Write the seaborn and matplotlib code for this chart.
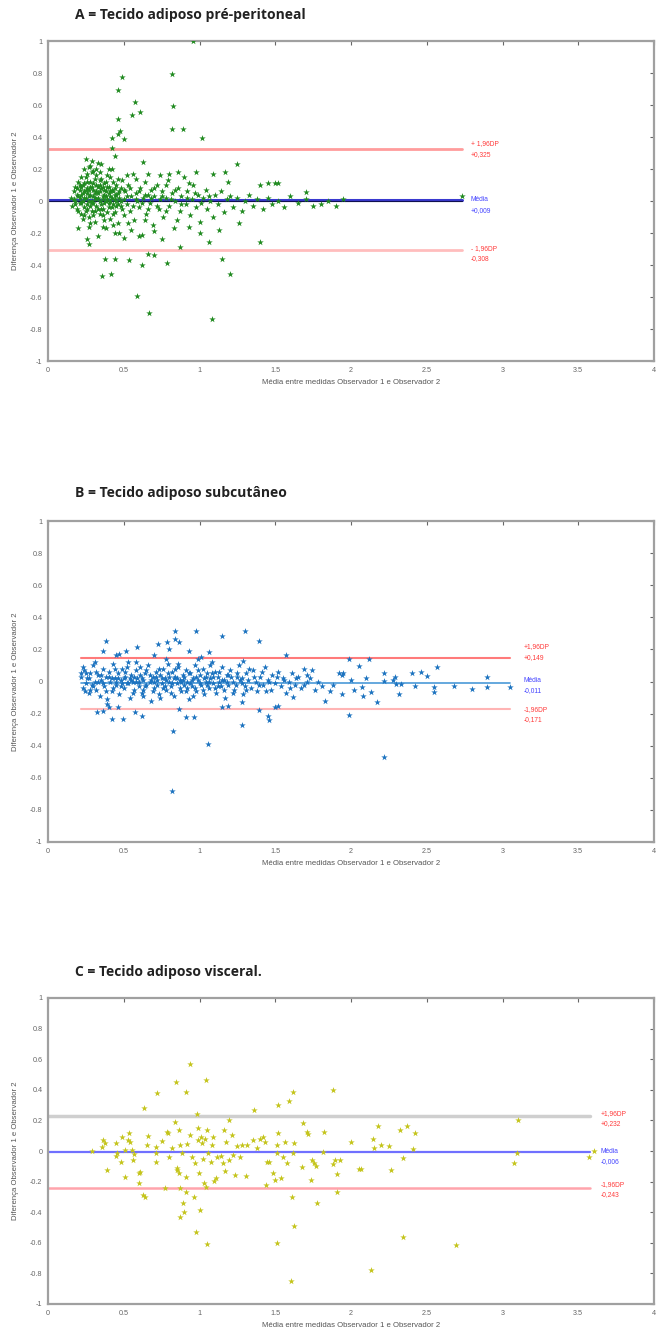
"""Bland-Altman plots: inter-observer agreement for three adipose tissue measures."""
import numpy as np
import matplotlib
matplotlib.use('Agg')
import matplotlib.pyplot as plt
from matplotlib.ticker import FormatStrFormatter
import pandas as pd
import seaborn as sns

# ---- data ----------------------------------------------------------------
titles = ['A = Tecido adiposo pré-peritoneal',
          'B = Tecido adiposo subcutâneo',
          'C = Tecido adiposo visceral.']

# limits of agreement: (upper, mean, lower) and the texts printed next to them
limits_a = [0.325, 0.009, -0.308]
limits_b = [0.149, -0.011, -0.171]
limits_c = [0.232, -0.006, -0.243]
labels_a = ['+ 1,96DP\n+0,325', 'Média\n+0,009', '- 1,96DP\n-0,308']
labels_b = ['+1,96DP\n+0,149', 'Média\n-0,011', '-1,96DP\n-0,171']
labels_c = ['+1,96DP\n+0,232', 'Média\n-0,006', '-1,96DP\n-0,243']
line_span_a = [0.0, 2.73]
line_span_b = [0.22, 3.05]
line_span_c = [0.0, 3.58]

# panel A (mean, difference)
pts_a_core = [
    (0.15, 0.02), (0.16, -0.03), (0.17, 0.06), (0.18, 0.00), (0.18, 0.09), (0.19, -0.05),
    (0.20, 0.03), (0.20, 0.12), (0.21, -0.01), (0.21, 0.07), (0.22, -0.08), (0.22, 0.04),
    (0.23, 0.10), (0.23, 0.00), (0.24, -0.04), (0.24, 0.06), (0.25, 0.15), (0.25, 0.02),
    (0.26, -0.02), (0.26, 0.08), (0.27, 0.21), (0.27, -0.10), (0.28, 0.04), (0.28, 0.12),
    (0.29, 0.00), (0.29, -0.06), (0.30, 0.07), (0.30, 0.19), (0.31, 0.02), (0.31, -0.13),
    (0.32, 0.10), (0.32, -0.03), (0.33, 0.05), (0.33, 0.24), (0.34, 0.00), (0.34, -0.08),
    (0.35, 0.08), (0.35, 0.14), (0.36, 0.03), (0.36, -0.05), (0.37, 0.11), (0.37, -0.01),
    (0.38, 0.06), (0.38, -0.17), (0.39, 0.01), (0.39, 0.16), (0.40, -0.04), (0.40, 0.09),
    (0.41, 0.03), (0.41, -0.11), (0.42, 0.07), (0.42, 0.20), (0.43, -0.02), (0.43, 0.12),
    (0.44, 0.04), (0.44, -0.07), (0.45, 0.00), (0.45, 0.10), (0.46, -0.14), (0.46, 0.05),
    (0.47, 0.02), (0.47, -0.20), (0.48, 0.08), (0.48, -0.03), (0.49, 0.13), (0.50, 0.01),
    (0.50, -0.09), (0.51, 0.06), (0.52, -0.02), (0.53, 0.10), (0.54, -0.06), (0.55, 0.03),
    (0.56, 0.17), (0.57, -0.12), (0.58, 0.05), (0.59, 0.00), (0.60, -0.04), (0.61, 0.08),
    (0.62, -0.21), (0.63, 0.02), (0.64, 0.12), (0.65, -0.08), (0.66, 0.04), (0.67, -0.01),
    (0.68, 0.07), (0.69, -0.15), (0.70, 0.03), (0.72, 0.10), (0.73, -0.05), (0.74, 0.01),
    (0.75, 0.06), (0.76, -0.10), (0.78, 0.02), (0.79, 0.13), (0.80, -0.03), (0.82, 0.05),
    (0.83, -0.17), (0.84, 0.00), (0.86, 0.08), (0.87, -0.06), (0.88, 0.03), (0.90, 0.15),
    (0.91, -0.02), (0.92, 0.06), (0.94, -0.09), (0.95, 0.01), (0.96, 0.10), (0.98, -0.04),
    (0.99, 0.04), (1.00, -0.13), (1.02, 0.02), (1.04, 0.07), (1.05, -0.05), (1.07, 0.00),
    (1.09, -0.10), (1.10, 0.04), (1.12, -0.02), (1.14, 0.06), (1.16, -0.07), (1.18, 0.01),
    (1.20, 0.03), (1.22, -0.04), (1.25, 0.02), (1.28, -0.06), (1.30, 0.00), (1.33, 0.04),
    (1.35, -0.03), (1.38, 0.01), (1.42, -0.05), (1.45, 0.02), (1.48, -0.02), (1.52, 0.00),
    (1.56, -0.04), (1.60, 0.03), (1.65, -0.01), (1.70, 0.01), (1.75, -0.03), (1.80, -0.02),
    (1.85, 0.00), (1.90, -0.03), (1.95, 0.01),
    (0.19, 0.04), (0.21, 0.10), (0.22, -0.01), (0.24, 0.02), (0.25, -0.06), (0.26, 0.05),
    (0.27, 0.00), (0.28, -0.03), (0.29, 0.09), (0.30, -0.01), (0.31, 0.05), (0.32, 0.01),
    (0.33, -0.05), (0.34, 0.06), (0.35, -0.02), (0.36, 0.09), (0.37, 0.04), (0.38, 0.00),
    (0.39, -0.07), (0.40, 0.05), (0.41, 0.00), (0.42, -0.04), (0.43, 0.06), (0.44, 0.01),
    (0.45, -0.03), (0.30, 0.03), (0.27, 0.07), (0.33, 0.09), (0.36, -0.09), (0.24, 0.11),
    (0.23, -0.11), (0.26, 0.17), (0.31, 0.14), (0.34, 0.18), (0.29, 0.25), (0.25, 0.26),
    (0.28, 0.22), (0.32, 0.16), (0.38, 0.12), (0.40, 0.20), (0.46, 0.14), (0.52, 0.16),
    (0.58, 0.14), (0.66, 0.17), (0.74, 0.16), (0.80, 0.17), (0.86, 0.18), (0.98, 0.18),
    (1.09, 0.17), (1.17, 0.18), (1.19, 0.12), (1.40, 0.10), (1.45, 0.115), (1.50, 0.11),
    (1.52, 0.115), (1.245, 0.231), (1.70, 0.054),
    (0.20, -0.17), (0.28, -0.14), (0.33, -0.22), (0.36, -0.16), (0.44, -0.20), (0.50, -0.23),
    (0.55, -0.18), (0.60, -0.22), (0.70, -0.19), (0.75, -0.24), (0.85, -0.12), (0.93, -0.16),
    (1.00, -0.20), (1.13, -0.18), (1.26, -0.14),
    (0.17, 0.01), (0.18, -0.02), (0.19, 0.08), (0.20, -0.06), (0.21, 0.02), (0.22, 0.09),
    (0.23, 0.05), (0.24, -0.09), (0.25, 0.07), (0.26, -0.05), (0.27, 0.03), (0.28, 0.09),
    (0.29, -0.01), (0.30, 0.11), (0.31, -0.06), (0.32, 0.06), (0.33, 0.02), (0.34, 0.10),
    (0.35, -0.05), (0.36, 0.01), (0.37, 0.07), (0.38, 0.03), (0.39, 0.09), (0.40, -0.01),
    (0.41, 0.06), (0.42, 0.02), (0.43, -0.08), (0.44, 0.08), (0.45, 0.04), (0.46, -0.02),
    (0.47, 0.06), (0.48, 0.00), (0.49, -0.05), (0.50, 0.07), (0.52, 0.03), (0.54, 0.08),
    (0.56, -0.03), (0.58, 0.01), (0.60, 0.06), (0.62, -0.01), (0.64, 0.04), (0.66, -0.05),
    (0.68, 0.02), (0.70, 0.08), (0.72, -0.03), (0.75, 0.03), (0.78, -0.06), (0.81, 0.01),
    (0.84, 0.07), (0.88, -0.02), (0.92, 0.02), (0.97, 0.05), (1.01, -0.01), (1.06, 0.03),
    (0.22, 0.15), (0.26, 0.12), (0.30, -0.09), (0.34, 0.13), (0.37, -0.12), (0.41, 0.15),
    (0.29, 0.18), (0.24, 0.20), (0.32, 0.20), (0.35, 0.23), (0.43, -0.15), (0.27, -0.16),
    (0.53, -0.14), (0.64, -0.12), (0.78, 0.10), (0.93, 0.11),
]
pts_a_out = [
    (0.955, 1.0), (0.486, 0.775), (0.459, 0.694), (0.574, 0.617), (0.605, 0.556),
    (0.552, 0.535), (0.459, 0.515), (0.816, 0.794), (0.827, 0.596), (0.816, 0.45),
    (0.889, 0.45), (1.014, 0.392), (0.475, 0.435), (0.46, 0.419), (0.425, 0.392),
    (0.504, 0.39), (0.423, 0.329), (0.44, 0.281), (0.629, 0.242), (2.73, 0.03),
    (0.59, -0.592), (0.669, -0.702), (1.083, -0.74), (0.354, -0.469), (0.416, -0.458),
    (0.379, -0.36), (0.443, -0.36), (0.533, -0.369), (0.621, -0.398), (0.658, -0.329),
    (0.70, -0.34), (0.788, -0.39), (1.151, -0.36), (1.202, -0.458), (0.871, -0.29),
    (1.06, -0.258), (0.273, -0.269), (0.26, -0.24), (1.397, -0.258),
]

# panel B
pts_b_core = [
    (0.22, 0.03), (0.23, -0.04), (0.24, 0.07), (0.25, -0.01), (0.26, 0.02), (0.27, -0.07),
    (0.28, 0.05), (0.29, -0.02), (0.30, 0.10), (0.31, 0.00), (0.32, -0.05), (0.33, 0.04),
    (0.34, -0.09), (0.35, 0.01), (0.36, 0.08), (0.37, -0.03), (0.38, 0.03), (0.39, -0.11),
    (0.40, 0.06), (0.41, 0.00), (0.42, -0.06), (0.43, 0.11), (0.44, 0.02), (0.45, -0.02),
    (0.46, 0.05), (0.47, -0.08), (0.48, 0.01), (0.49, 0.08), (0.50, -0.04), (0.51, 0.03),
    (0.52, -0.01), (0.53, 0.12), (0.54, -0.10), (0.55, 0.04), (0.56, 0.00), (0.57, -0.05),
    (0.58, 0.07), (0.59, 0.02), (0.60, -0.03), (0.61, 0.09), (0.62, -0.07), (0.63, 0.01),
    (0.64, 0.05), (0.65, -0.02), (0.66, 0.10), (0.67, 0.00), (0.68, -0.12), (0.69, 0.03),
    (0.70, -0.04), (0.71, 0.06), (0.72, 0.01), (0.73, -0.08), (0.74, 0.04), (0.75, -0.01),
    (0.76, 0.08), (0.77, 0.02), (0.78, -0.05), (0.79, 0.11), (0.80, 0.00), (0.81, -0.03),
    (0.82, 0.06), (0.83, -0.09), (0.84, 0.03), (0.85, -0.01), (0.86, 0.09), (0.87, 0.01),
    (0.88, -0.06), (0.89, 0.04), (0.90, -0.02), (0.91, 0.07), (0.92, 0.00), (0.93, -0.11),
    (0.94, 0.05), (0.95, -0.03), (0.96, 0.02), (0.97, 0.10), (0.98, -0.06), (0.99, 0.01),
    (1.00, 0.04), (1.01, -0.02), (1.02, 0.08), (1.03, -0.08), (1.04, 0.00), (1.05, 0.05),
    (1.06, -0.04), (1.07, 0.02), (1.08, 0.12), (1.09, -0.01), (1.10, 0.06), (1.11, -0.07),
    (1.12, 0.03), (1.13, 0.00), (1.14, -0.03), (1.15, 0.09), (1.16, 0.01), (1.17, -0.10),
    (1.18, 0.04), (1.19, -0.02), (1.20, 0.07), (1.22, 0.00), (1.23, -0.05), (1.25, 0.03),
    (1.26, 0.10), (1.28, -0.01), (1.29, -0.08), (1.31, 0.05), (1.32, 0.01), (1.34, -0.04),
    (1.35, 0.07), (1.37, 0.00), (1.38, -0.06), (1.40, 0.03), (1.42, -0.02), (1.43, 0.09),
    (1.45, 0.01), (1.47, -0.05), (1.48, 0.04), (1.50, -0.01), (1.52, 0.06), (1.54, -0.03),
    (1.55, 0.02), (1.57, -0.07), (1.59, 0.00), (1.61, 0.05), (1.63, -0.02), (1.65, 0.03),
    (1.67, -0.04), (1.69, 0.08), (1.71, 0.00),
    (0.42, 0.02), (0.45, 0.00), (0.48, -0.03), (0.50, 0.02), (0.53, -0.01), (0.55, 0.01),
    (0.57, 0.03), (0.60, 0.00), (0.62, 0.02), (0.64, -0.03), (0.67, 0.04), (0.70, 0.00),
    (0.72, -0.02), (0.75, 0.02), (0.77, -0.03), (0.80, 0.03), (0.82, -0.01), (0.85, 0.02),
    (0.88, 0.00), (0.90, 0.03), (0.92, -0.04), (0.95, 0.01), (0.98, 0.03), (1.00, -0.01),
    (1.03, 0.02), (1.06, 0.00), (1.09, 0.03), (1.12, -0.03), (1.15, 0.01), (1.18, 0.00),
    (1.21, 0.03), (1.24, -0.02), (1.27, 0.01), (1.30, -0.03), (0.35, 0.04), (0.38, -0.06),
    (0.30, -0.03), (0.27, 0.02), (0.33, 0.00), (0.44, 0.08), (0.52, 0.09), (0.63, -0.09),
    (0.74, -0.10), (0.86, 0.11), (0.96, -0.09), (1.07, 0.10), (1.33, 0.08), (1.44, -0.06),
    (0.25, 0.05), (0.28, -0.05), (0.32, 0.06), (0.36, -0.01), (0.40, 0.03), (0.43, -0.04),
    (0.46, 0.02), (0.49, -0.01), (0.51, 0.06), (0.54, 0.02), (0.56, -0.07), (0.58, 0.00),
    (0.61, 0.04), (0.63, -0.05), (0.65, 0.07), (0.68, 0.01), (0.69, -0.06), (0.71, 0.03),
    (0.73, 0.08), (0.76, -0.04), (0.78, 0.01), (0.79, 0.05), (0.81, -0.07), (0.83, 0.02),
    (0.84, 0.08), (0.87, -0.04), (0.89, 0.01), (0.91, -0.06), (0.93, 0.05), (0.94, -0.01),
    (0.97, -0.04), (0.99, 0.07), (1.02, -0.05), (1.04, 0.03), (1.05, -0.02), (1.08, 0.05),
    (1.10, -0.04), (1.13, 0.06), (1.16, -0.05), (1.19, 0.04), (1.22, -0.07), (1.25, 0.05),
    (1.28, 0.02), (1.31, -0.05), (1.36, 0.03), (1.39, -0.02), (1.41, 0.06), (1.46, 0.00),
    (1.51, 0.03), (1.56, 0.01), (1.60, -0.04), (1.64, 0.02),
]
pts_b_out = [
    (0.838, 0.315), (0.975, 0.315), (1.30, 0.315), (1.149, 0.284), (1.39, 0.255),
    (0.383, 0.255), (0.725, 0.234), (0.784, 0.248), (0.838, 0.265), (0.797, 0.20),
    (0.865, 0.248), (0.585, 0.213), (0.363, 0.193), (0.933, 0.193), (1.06, 0.184),
    (0.515, 0.193), (0.447, 0.166), (0.467, 0.172), (1.57, 0.166), (1.01, 0.151),
    (0.70, 0.164), (0.78, 0.14), (0.99, 0.14), (1.29, 0.128), (0.31, 0.124),
    (0.233, 0.089), (0.218, 0.052), (0.58, 0.12),
    (1.056, -0.387), (0.827, -0.311), (1.283, -0.271), (1.39, -0.18), (1.45, -0.217),
    (1.46, -0.238), (1.50, -0.16), (1.52, -0.155), (0.91, -0.219), (0.964, -0.219),
    (0.618, -0.217), (0.497, -0.234), (0.425, -0.234), (0.46, -0.16), (0.323, -0.193),
    (0.36, -0.186), (0.572, -0.19), (0.864, -0.17), (1.146, -0.161), (1.19, -0.155),
    (1.28, -0.13), (1.83, -0.124), (0.387, -0.139), (0.40, -0.157), (0.246, -0.062),
    (1.62, -0.097), (0.82, -0.68),
    (1.99, 0.141), (2.12, 0.141), (2.05, 0.097), (2.22, 0.052), (2.40, 0.052),
    (2.46, 0.062), (2.50, 0.037), (2.57, 0.089), (2.90, 0.031), (2.90, -0.037),
    (3.05, -0.037), (2.80, -0.048), (2.68, -0.031), (2.55, -0.037), (2.55, -0.068),
    (2.42, -0.031), (2.32, -0.079), (2.17, -0.13), (1.99, -0.211), (2.22, -0.472),
    (2.28, 0.01), (2.30, -0.015), (2.33, -0.015), (2.29, 0.027), (2.22, 0.006),
    (2.13, -0.066), (2.07, -0.035), (2.08, -0.093), (2.02, -0.05), (2.00, 0.01),
    (2.10, 0.02), (1.94, 0.04), (1.94, -0.08), (1.92, 0.05), (1.95, 0.056),
    (1.88, -0.02), (1.86, -0.06), (1.74, 0.072), (1.73, 0.02), (1.78, 0.0),
    (1.81, -0.03), (1.76, -0.05), (1.69, -0.02), (1.71, 0.04),
]

# panel C
pts_c = [
    (0.293, 0.0), (0.387, -0.124), (0.365, 0.072), (0.376, 0.054), (0.359, 0.024),
    (0.447, 0.05), (0.453, -0.015), (0.449, -0.03), (0.48, -0.07), (0.49, 0.089),
    (0.51, 0.007), (0.51, -0.172), (0.537, 0.115), (0.53, 0.072), (0.541, 0.059),
    (0.552, 0.007), (0.563, -0.059), (0.57, -0.02), (0.598, -0.146), (0.603, -0.211),
    (0.61, -0.135), (0.625, -0.29), (0.643, -0.298), (0.634, 0.279), (0.651, 0.039),
    (0.662, 0.098), (0.713, 0.028), (0.713, -0.072), (0.71, -0.015), (0.721, 0.377),
    (0.75, 0.065), (0.772, -0.24), (0.783, 0.126), (0.79, 0.12), (0.80, -0.037),
    (0.816, 0.022), (0.84, 0.192), (0.847, 0.449), (0.849, -0.124), (0.853, -0.113),
    (0.864, 0.137), (0.867, -0.146), (0.87, 0.039), (0.873, -0.244), (0.869, -0.434),
    (0.887, -0.015), (0.90, -0.397), (0.893, -0.338), (0.91, -0.172), (0.909, 0.386),
    (0.915, 0.046), (0.91, -0.27), (0.937, 0.569), (0.937, 0.102), (0.948, -0.037),
    (0.963, -0.298), (0.97, -0.076), (0.977, -0.527), (0.986, 0.24), (0.988, 0.148),
    (0.992, 0.072), (0.999, -0.146), (1.003, -0.386), (1.012, 0.094), (1.019, 0.054),
    (1.025, -0.05), (1.032, -0.211), (1.04, -0.233), (1.036, 0.076), (1.043, 0.464),
    (1.047, 0.137), (1.052, -0.606), (1.058, -0.011), (1.073, -0.07), (1.08, 0.037),
    (1.091, 0.089), (1.096, -0.194), (1.106, -0.179), (1.113, -0.037), (1.142, -0.03),
    (1.153, -0.081), (1.162, 0.137), (1.168, -0.129), (1.175, 0.061), (1.192, 0.203),
    (1.195, -0.059), (1.212, 0.107), (1.218, -0.026), (1.234, -0.157), (1.245, 0.035),
    (1.267, -0.037), (1.278, 0.039), (1.307, -0.163), (1.315, 0.039), (1.362, 0.27),
    (1.355, 0.072), (1.377, 0.017), (1.398, 0.076), (1.416, 0.089), (1.435, 0.061),
    (1.447, -0.07), (1.439, -0.222), (1.456, -0.07), (1.487, -0.146), (1.498, -0.19),
    (1.509, -0.604), (1.516, 0.298), (1.516, 0.12), (1.514, 0.039), (1.509, -0.011),
    (1.537, -0.179), (1.548, -0.037), (1.566, 0.061), (1.579, -0.076), (1.588, 0.329),
    (1.608, -0.298), (1.619, 0.388), (1.623, 0.05), (1.623, -0.488), (1.619, -0.011),
    (1.604, -0.847), (1.679, -0.107), (1.685, 0.181), (1.707, 0.126), (1.718, 0.111),
    (1.733, -0.19), (1.74, -0.059), (1.756, -0.076), (1.77, -0.096), (1.773, -0.338),
    (1.817, -0.007), (1.823, 0.126), (1.883, 0.399), (1.883, -0.085), (1.894, -0.059),
    (1.905, -0.153), (1.905, -0.268), (1.998, 0.059), (2.055, -0.12), (1.927, -0.059),
    (2.066, -0.118), (2.147, 0.078), (2.154, 0.017), (2.178, 0.163), (2.198, 0.039),
    (2.253, 0.031), (2.264, -0.126), (2.325, 0.137), (2.343, -0.048), (2.367, 0.163),
    (2.411, 0.011), (2.422, 0.12), (2.345, -0.56), (2.13, -0.778), (2.691, -0.617),
    (3.101, 0.203), (3.093, -0.011), (3.076, -0.076), (3.571, -0.037), (3.606, 0.0),
]

x_ticks = [0, 0.5, 1, 1.5, 2, 2.5, 3, 3.5, 4]
y_ticks = [-1, -0.8, -0.6, -0.4, -0.2, 0, 0.2, 0.4, 0.6, 0.8, 1]
x_label = 'Média entre medidas Observador 1 e Observador 2'
y_label = 'Diferença Observador 1 e Observador 2'

# ---- drawing --------------------------------------------------------------
sns.set_theme(style='white')
plt.rcParams['font.family'] = ['Liberation Sans', 'DejaVu Sans']
plt.rcParams['axes.unicode_minus'] = False

W, H = 668, 1334
fig = plt.figure(figsize=(W / 100, H / 100), dpi=100)

# axes boxes in pixels: (top, bottom)
boxes = [(41, 361), (521, 842), (998, 1304)]
title_y = [15, 493, 972]
left, right = 48, 654

panels = [
    dict(pts=pts_a_core + pts_a_out, color='#1f8a1f', lim=limits_a, lab=labels_a,
         span=line_span_a, text_x=2.79,
         line_colors=['#ff9c9c', '#3a3ad0', '#ffbdbd'], line_w=[2.0, 2.2, 2.0],
         text_dy=[0.0, -0.035, -0.02]),
    dict(pts=pts_b_core + pts_b_out, color='#1b72bf', lim=limits_b, lab=labels_b,
         span=line_span_b, text_x=3.14,
         line_colors=['#ff7a7a', '#4a9ad8', '#ffb4b4'], line_w=[1.5, 1.2, 1.5],
         text_dy=[0.035, -0.015, -0.035]),
    dict(pts=pts_c, color='#c4c41a', lim=limits_c, lab=labels_c,
         span=line_span_c, text_x=3.65,
         line_colors=['#cfcfcf', '#7070ff', '#ffa4ac'], line_w=[2.5, 1.6, 1.8],
         text_dy=[-0.02, -0.03, -0.01]),
]

for i, p in enumerate(panels):
    top, bot = boxes[i]
    ax = fig.add_axes([left / W, 1 - bot / H, (right - left) / W, (bot - top) / H])
    df = pd.DataFrame(p['pts'], columns=['media', 'diferenca'])

    for val, c, lw in zip(p['lim'], p['line_colors'], p['line_w']):
        ax.plot(p['span'], [val, val], color=c, lw=lw, zorder=1)
    if i == 0:
        ax.plot(p['span'], [0, 0], color='#101050', lw=0.8, zorder=1)

    sns.scatterplot(data=df, x='media', y='diferenca', ax=ax, color=p['color'],
                    marker='*', s=24, linewidth=0, legend=False, zorder=3)

    txt_colors = ['#ff3a3a', '#4444ff', '#ff3a3a']
    for val, t, c, dy in zip(p['lim'], p['lab'], txt_colors, p['text_dy']):
        ax.text(p['text_x'], val + dy, t, color=c, fontsize=4.8, va='center',
                ha='left', linespacing=1.7)

    ax.set_xlim(0, 4)
    ax.set_ylim(-1, 1)
    ax.set_xticks(x_ticks)
    ax.set_yticks(y_ticks)
    ax.xaxis.set_major_formatter(FormatStrFormatter('%g'))
    ax.yaxis.set_major_formatter(FormatStrFormatter('%g'))
    ax.tick_params(direction='in', top=True, right=True, length=3, width=0.8,
                   colors='#666666', labelsize=5.2, pad=4)
    for s in ax.spines.values():
        s.set_color('#a0a0a0')
        s.set_linewidth(1.6)
    ax.set_xlabel(x_label, fontsize=5.6, color='#555555', labelpad=4)
    ax.set_ylabel(y_label, fontsize=5.6, color='#555555', labelpad=8)

    fig.text(75 / W, 1 - title_y[i] / H, titles[i], fontsize=10, fontweight='bold',
             family=['Open Sans', 'DejaVu Sans'], color='#222222', va='center')

fig.savefig('out.png', dpi=100)
